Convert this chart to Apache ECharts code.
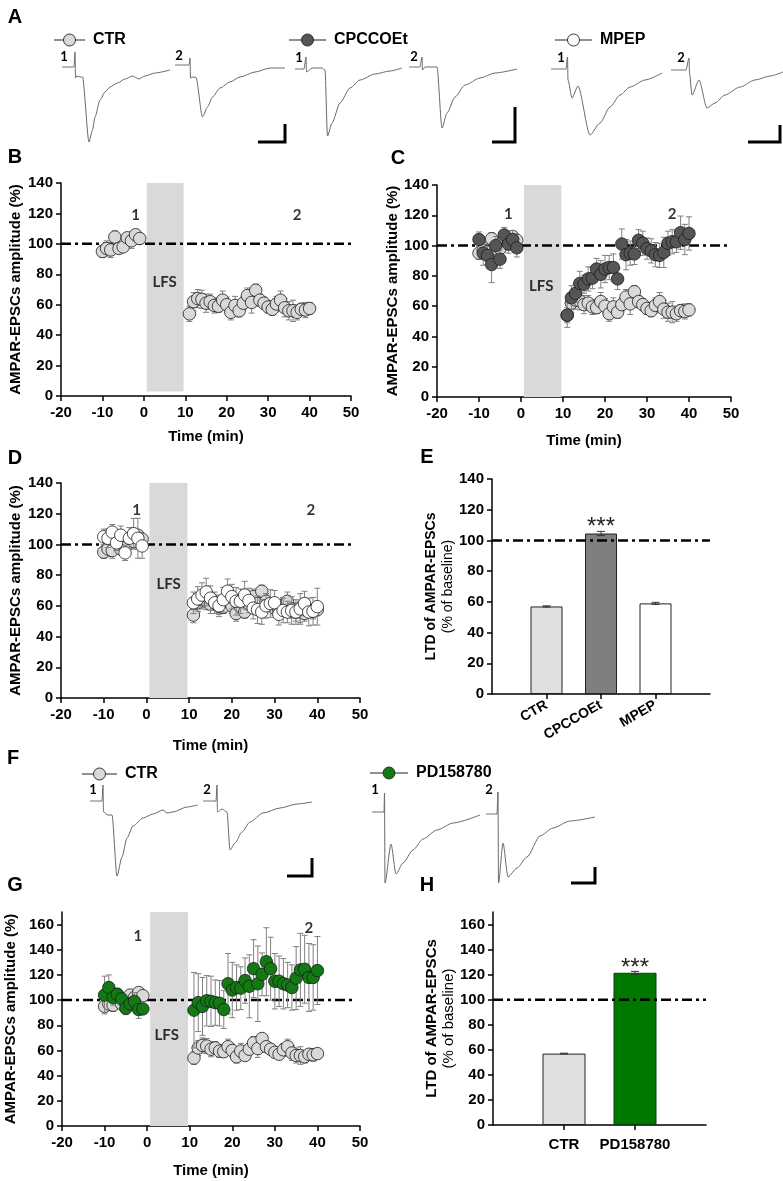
<!DOCTYPE html>
<html><head><meta charset="utf-8">
<script src="https://cdn.jsdelivr.net/npm/echarts@6/dist/echarts.min.js"></script>
<style>html,body{margin:0;padding:0;background:#fff}#c{width:783px;height:1181px}</style>
</head><body><div id="c"></div>
<script>
// ---------------- DATA ----------------
const timePoints = [-10,-9,-8,-7,-6,-5,-4,-3,-2,-1,11,12,13,14,15,16,17,18,19,20,21,22,23,24,25,26,27,28,29,30,31,32,33,34,35,36,37,38,39,40];
const ctrMean = [95,97,96,104.5,97,98,104,102,106,103.5, 54,62,64,63.5,61,62,59.5,59,63,60, 55,59.5,56,61,66,61.5,69.5,63,61,58.5, 57,60.5,63,58,56,56,55,57,56.5,57.5];
const ctrSem  = [4,5,5,4,3,3,3,5,3,2, 5,6,6,6,6,5,5,4,6,5, 5,6,4,4,5,7,4,4,4,4, 4,5,6,6,6,7,5,4,5,4];
const cpccoetMean = [104,95,93.5,87.5,100,91,107,101,104,98.5, 54,65.5,68.5,75,74.5,78,78.5,84.5,81,84.5, 85.5,85.5,78,101,94,95,94.5,103.5,101.5,98, 96.5,94,93.5,95.5,101.5,102.5,102.5,108.5,104,108];
const cpccoetSem  = [5,8,6,12,6,6,5,6,6,6, 8,8,6,8,6,8,7,7,9,9, 8,9,7,10,10,8,7,7,8,7, 8,8,8,10,8,8,7,11,10,11];
const mpepMean = [105,104,108,101,106,94.5,104,107,104,99, 62,64.5,67,69,65,62,60,64,69.5,66, 63,63,67,63.5,58.5,57.5,56,60,61.5,62, 54.5,57,56,57,56,58,61.5,56,56.5,59.5];
const mpepSem  = [5,6,5,5,6,5,7,10,13,8, 7,8,8,9,8,7,7,8,8,8, 9,8,9,8,7,9,8,8,9,8, 7,8,7,9,8,10,8,9,9,12];
const pdMean = [104,110,102,104.5,101,93.5,97,99,92.5,93, 92,98,95,99.5,99,98,97.5,92.5,113,108, 110,109.5,115.5,111,125,113,120.5,130.5,125,115, 115,113,112,110,117.5,124,124.5,118,118,123.5];
const pdSem  = [15,10,6,5,5,5,5,7,7,4, 30,23,23,20,20,18,18,15,24,22, 18,17,18,25,23,30,17,27,25,22, 20,20,18,18,25,29,27,27,26,27];

const timeAxisTicks = [-20, 50, 10];   // min, max, step (min)
const lfsWindow = [0.7, 9.6];          // LFS period (min)
const baselineLevel = 100;

const barCatsE  = ['CTR','CPCCOEt','MPEP'];
const barMeansE = [57, 104.5, 59];
const barSemE   = [0.4, 1.4, 0.7];
const barSigE   = ['', '***', ''];
const barCatsH  = ['CTR','PD158780'];
const barMeansH = [57, 121.5];
const barSemH   = [0.3, 1.1];
const barSigH   = ['', '***'];

// example EPSC traces: [time (a.u.), current (a.u.)]
const traceA_ctr1  = [[0,0],[12,0],[13,15],[13.5,-11],[14,-9],[19,-10],[20.5,-10],[27,-75],[30.5,-63],[33,-50],[38,-33],[43,-25],[48,-20],[55.5,-16],[63,-12],[70.5,-9],[77,-12],[83,-9],[93,-6],[108,-3]];
const traceA_ctr2  = [[0,0],[14,0],[15,7],[15.5,-13],[17.5,-12],[21,-12.5],[27.5,-52],[32.5,-42],[37.5,-32],[45,-23],[55,-17],[65,-12],[80,-7],[95,-3],[110,-3]];
const traceA_cp1   = [[0,0],[9,0],[11,12],[11.5,-3],[17,1],[27,1],[30,-1],[32.5,-67],[37,-54],[45,-34],[55,-19],[65,-11],[80,-5],[95,-2],[107,1]];
const traceA_cp2   = [[0,0],[11,0],[13,10],[13.5,-3],[16,0],[28,0],[33,-61],[38,-46],[46,-30],[56,-18],[71,-11],[86,-6],[108,-2]];
const traceA_mpep1 = [[0,0],[15,0],[16.5,12],[17,-11],[21,-29],[27,-17],[39,-66],[49,-54],[59,-38],[69,-26],[79,-18],[94,-11],[111,-4]];
const traceA_mpep2 = [[0,0],[15,0],[18,12],[18.5,-3],[21,-25],[28,-10],[36,-38],[44,-33],[54,-25],[69,-17],[84,-10],[99,-6],[112,-2]];
const traceF_ctr1  = [[0,0],[12,0],[13,16],[13.5,-11],[18,-14],[22,-14],[27,-75],[32,-56],[37,-37],[43,-25],[53,-17],[63,-13],[73,-9],[77,-12],[83,-11],[97,-6],[108,-4]];
const traceF_ctr2  = [[0,0],[13,0],[14,16],[14.5,-11],[19,-8],[24,-11],[27,-49],[32,-42],[39,-31],[47,-21],[60,-12],[77,-7],[94,-3],[109,-1]];
const traceF_pd1   = [[0,0],[12,0],[12.5,19],[13,-71],[19,-32],[24,-62],[31,-51],[41,-38],[51,-27],[65,-18],[81,-11],[108,-3]];
const traceF_pd2   = [[0,0],[11,0],[12,22],[12.5,-69],[17,-29],[22,-63],[31,-54],[41,-43],[54,-22],[67,-14],[84,-7],[109,-3]];

// ---------------- STYLE / LAYOUT ----------------
const FONT = 'Liberation Sans, Arial, sans-serif';
const COL = {ctr:'#d9d9d9', cp:'#555555', mpep:'#ffffff', pd:'#137a13', lfs:'#d9d9d9', err:'#808080'};

const grids = [], xAxes = [], yAxes = [], series = [];
function addGrid(r){ grids.push(Object.assign({outerBoundsMode:'none', containLabel:false}, r)); return grids.length - 1; }
const axisLine = {show:true, onZero:false, lineStyle:{color:'#000', width:1.5}};
const axisTick = {show:true, length:5, inside:false, lineStyle:{color:'#000', width:1.5}};
const lbl = {color:'#000', fontSize:15, fontWeight:'bold', fontFamily:FONT};

function errRender(color, cap){
  return function(params, api){
    const x = api.value(0), m = api.value(1), e = api.value(2);
    const t = api.coord([x, m + e]), b = api.coord([x, m - e]);
    const st = {stroke:color, lineWidth:1};
    return {type:'group', children:[
      {type:'line', shape:{x1:t[0], y1:t[1], x2:b[0], y2:b[1]}, style:st},
      {type:'line', shape:{x1:t[0]-cap, y1:t[1], x2:t[0]+cap, y2:t[1]}, style:st},
      {type:'line', shape:{x1:b[0]-cap, y1:b[1], x2:b[0]+cap, y2:b[1]}, style:st}
    ]};
  };
}
function rectRender(params, api){
  const a = api.coord([api.value(0), api.value(3)]);
  const b = api.coord([api.value(1), api.value(2)]);
  return {type:'rect', shape:{x:a[0], y:a[1], width:b[0]-a[0], height:b[1]-a[1]}, style:{fill:COL.lfs}};
}

function timePanel(p){
  const g = addGrid(p.rect);
  xAxes.push({gridIndex:g, type:'value', min:timeAxisTicks[0], max:timeAxisTicks[1], interval:timeAxisTicks[2],
    axisLine, axisTick, axisLabel:Object.assign({}, lbl, {margin:9}), splitLine:{show:false},
    name:'Time (min)', nameLocation:'middle', nameGap:p.xGap, nameTextStyle:Object.assign({}, lbl)});
  yAxes.push({gridIndex:g, type:'value', min:0, max:p.ymax, interval:20,
    axisLine, axisTick, axisLabel:Object.assign({}, lbl, {margin:8, showMaxLabel:p.ymax % 20 === 0}), splitLine:{show:false},
    name:'AMPAR-EPSCs amplitude (%)', nameLocation:'middle', nameGap:p.yGap, nameRotate:90, nameTextStyle:Object.assign({}, lbl)});
  const xi = xAxes.length - 1, yi = yAxes.length - 1;
  const ax = {xAxisIndex:xi, yAxisIndex:yi};
  series.push(Object.assign({type:'custom', data:[[lfsWindow[0], lfsWindow[1], p.lfsBottom, p.ymax]], renderItem:rectRender, silent:true, z:1, clip:false}, ax));
  series.push(Object.assign({type:'line', data:[[timeAxisTicks[0], baselineLevel],[p.refEnd, baselineLevel]], symbol:'none', silent:true, z:2,
    lineStyle:{color:'#000', width:2.5, type:[10,4,3,4]}}, ax));
  p.groups.forEach((gr, k) => {
    series.push(Object.assign({type:'custom', data:timePoints.map((t,i)=>[t, gr.mean[i], gr.sem[i]]), renderItem:errRender(COL.err, 3), silent:true, z:3+2*k, clip:false}, ax));
    series.push(Object.assign({type:'scatter', data:timePoints.map((t,i)=>[t, gr.mean[i]]), symbol:'circle', symbolSize:12.5, z:4+2*k,
      itemStyle:{color:gr.color, borderColor:'#1a1a1a', borderWidth:0.8, opacity:1}}, ax));
  });
  series.push(Object.assign({type:'scatter', data:p.notes.map(n=>({name:n[0], value:[n[1], n[2]]})), symbolSize:1, silent:true, z:20,
    itemStyle:{color:'rgba(0,0,0,0)'},
    label:{show:true, position:'inside', formatter:'{b}', fontFamily:'Lato, sans-serif', fontWeight:'bold', fontSize:15, color:'#000'}}, ax));
}

function barPanel(p){
  const g = addGrid(p.rect);
  const cats = [''].concat(p.cats).concat(['']);
  xAxes.push({gridIndex:g, type:'category', data:cats, boundaryGap:false, axisLine,
    axisTick:Object.assign({}, axisTick, {interval:(i,v)=>v !== ''}),
    axisLabel:Object.assign({}, lbl, {interval:(i,v)=>v !== '', rotate:p.rotate, margin:p.labelMargin, fontSize:p.catFont}), splitLine:{show:false}});
  yAxes.push({gridIndex:g, type:'value', min:0, max:p.ymax, interval:20,
    axisLine, axisTick, axisLabel:Object.assign({}, lbl, {margin:8, showMaxLabel:p.ymax % 20 === 0}), splitLine:{show:false},
    name:'{a|LTD of AMPAR-EPSCs}\n{b|(% of baseline)}', nameLocation:'middle', nameGap:p.yGap, nameRotate:90,
    nameTextStyle:{rich:{a:{fontSize:p.nameFont, fontWeight:'bold', fontFamily:FONT, color:'#000', lineHeight:17},
                         b:{fontSize:p.nameFont, fontWeight:'normal', fontFamily:FONT, color:'#000', lineHeight:17}}}});
  const xi = xAxes.length - 1, yi = yAxes.length - 1;
  const ax = {xAxisIndex:xi, yAxisIndex:yi};
  const barData = ['-'].concat(p.means.map((v,i)=>({value:v, itemStyle:{color:p.colors[i], borderColor:p.borders[i], borderWidth:1}}))).concat(['-']);
  series.push(Object.assign({type:'bar', data:barData, barWidth:p.barWidth, z:2,
    label:{show:true, position:'top', distance:p.starDist, formatter:q => p.sig[q.dataIndex-1] || '', fontSize:24, color:'#222', fontFamily:FONT}}, ax));
  series.push(Object.assign({type:'line', data:[[0, baselineLevel],[p.refEnd, baselineLevel]], symbol:'none', silent:true, z:3,
    lineStyle:{color:'#000', width:2.5, type:[10,4,3,4]}}, ax));
  series.push(Object.assign({type:'custom', data:p.means.map((m,i)=>[i+1, m, p.sem[i]]), renderItem:errRender('#333', 4), silent:true, z:4, clip:false}, ax));
}

function tracePanel(data, x0, y0){
  const g = addGrid({left:x0, top:y0-25, width:115, height:105});
  xAxes.push({gridIndex:g, type:'value', min:0, max:115, show:false});
  yAxes.push({gridIndex:g, type:'value', min:-80, max:25, show:false});
  series.push({type:'line', xAxisIndex:xAxes.length-1, yAxisIndex:yAxes.length-1, data, symbol:'none', silent:true,
    smooth:0.25, smoothMonotone:'x', lineStyle:{color:'#6a6a6a', width:1}});
}

// B
timePanel({rect:{left:61, top:183, width:290, height:213}, ymax:140, lfsBottom:3, refEnd:50, xGap:33, yGap:38,
  groups:[{mean:ctrMean, sem:ctrSem, color:COL.ctr}], notes:[['1',-2,119],['2',37,119],['LFS',5,75]]});
// C
timePanel({rect:{left:437, top:185, width:294, height:212}, ymax:140, lfsBottom:0, refEnd:50, xGap:36, yGap:37,
  groups:[{mean:ctrMean, sem:ctrSem, color:COL.ctr},{mean:cpccoetMean, sem:cpccoetSem, color:COL.cp}], notes:[['1',-3,121],['2',36,121],['LFS',4.8,73]]});
// D
timePanel({rect:{left:61, top:483, width:299, height:215}, ymax:140, lfsBottom:0, refEnd:48.5, xGap:40, yGap:38,
  groups:[{mean:ctrMean, sem:ctrSem, color:COL.ctr},{mean:mpepMean, sem:mpepSem, color:COL.mpep}], notes:[['1',-2.3,122],['2',38.5,122],['LFS',5.2,74]]});
// G
timePanel({rect:{left:62, top:912, width:298, height:214}, ymax:170, lfsBottom:0, refEnd:49, xGap:37, yGap:44,
  groups:[{mean:ctrMean, sem:ctrSem, color:COL.ctr},{mean:pdMean, sem:pdSem, color:COL.pd}], notes:[['1',-2.2,151],['2',38,157],['LFS',4.6,72]]});
// E
barPanel({rect:{left:492, top:479, width:218, height:215}, ymax:140, cats:barCatsE, means:barMeansE, sem:barSemE, sig:barSigE,
  colors:['#e0e0e0','#7f7f7f','#ffffff'], borders:['#222','#222','#222'], barWidth:32, rotate:30, labelMargin:10, catFont:14,
  refEnd:4, yGap:31, nameFont:14, starDist:-6});
// H
barPanel({rect:{left:493, top:912, width:213, height:213}, ymax:170, cats:barCatsH, means:barMeansH, sem:barSemH, sig:barSigH,
  colors:['#e0e0e0','#007800'], borders:['#222','#0b3d0b'], barWidth:43, rotate:0, labelMargin:12, catFont:15,
  refEnd:2.87, yGap:36, nameFont:15, starDist:-8});

// traces
tracePanel(traceA_ctr1, 62, 67);
tracePanel(traceA_ctr2, 175, 65);
tracePanel(traceA_cp1, 295, 69);
tracePanel(traceA_cp2, 409, 67);
tracePanel(traceA_mpep1, 551, 69);
tracePanel(traceA_mpep2, 671, 70);
tracePanel(traceF_ctr1, 90, 801);
tracePanel(traceF_ctr2, 203, 801);
tracePanel(traceF_pd1, 372, 812);
tracePanel(traceF_pd2, 486, 814);

// ---------------- GRAPHIC DECORATIONS ----------------
const gfx = [];
function txt(t, x, y, font, align){ gfx.push({type:'text', x, y, style:{text:t, font, fill:'#000', textAlign:align||'center', textVerticalAlign:'middle'}}); }
function legendItem(x1, x2, y, fill, label){
  gfx.push({type:'line', shape:{x1, y1:y, x2, y2:y}, style:{stroke:'#222', lineWidth:1}});
  gfx.push({type:'circle', shape:{cx:(x1+x2)/2, cy:y, r:6}, style:{fill, stroke:'#222', lineWidth:0.9}});
  txt(label, x2 + 8, y, 'bold 16px ' + FONT, 'left');
}
function scaleBar(pts){ gfx.push({type:'polyline', shape:{points:pts}, style:{stroke:'#000', lineWidth:3, fill:null}}); }

['A',15,17,'B',15,157,'C',398,158,'D',15,458,'E',427,457,'F',13,758,'G',15,885,'H',427,885].forEach((v,i,a)=>{ if(i%3===0) txt(a[i], a[i+1], a[i+2], 'bold 20px ' + FONT); });
legendItem(54, 85, 40, COL.ctr, 'CTR');
legendItem(289, 326, 40, COL.cp, 'CPCCOEt');
legendItem(555, 592, 40, COL.mpep, 'MPEP');
legendItem(82, 117, 774, COL.ctr, 'CTR');
legendItem(370, 408, 773, COL.pd, 'PD158780');
const tf = 'bold 13px Lato, sans-serif';
[['1',64,57],['2',179,56],['1',299,58],['2',414,57],['1',561,58],['2',681,58],['1',93,790],['2',207,790],['1',375,790],['2',489,790]].forEach(v=>txt(v[0], v[1], v[2], tf));
scaleBar([[258,142],[285,142],[285,124]]);
scaleBar([[492,142],[515,142],[515,107]]);
scaleBar([[748,142],[780,142],[780,125]]);
scaleBar([[287,876],[312,876],[312,858]]);
scaleBar([[571,883],[595,883],[595,867]]);

const chart = echarts.init(document.getElementById('c'), null, {renderer:'canvas', width:783, height:1181});
chart.setOption({animation:false, backgroundColor:'#fff', textStyle:{fontFamily:FONT},
  grid:grids, xAxis:xAxes, yAxis:yAxes, series, graphic:{elements:gfx}});
</script></body></html>
